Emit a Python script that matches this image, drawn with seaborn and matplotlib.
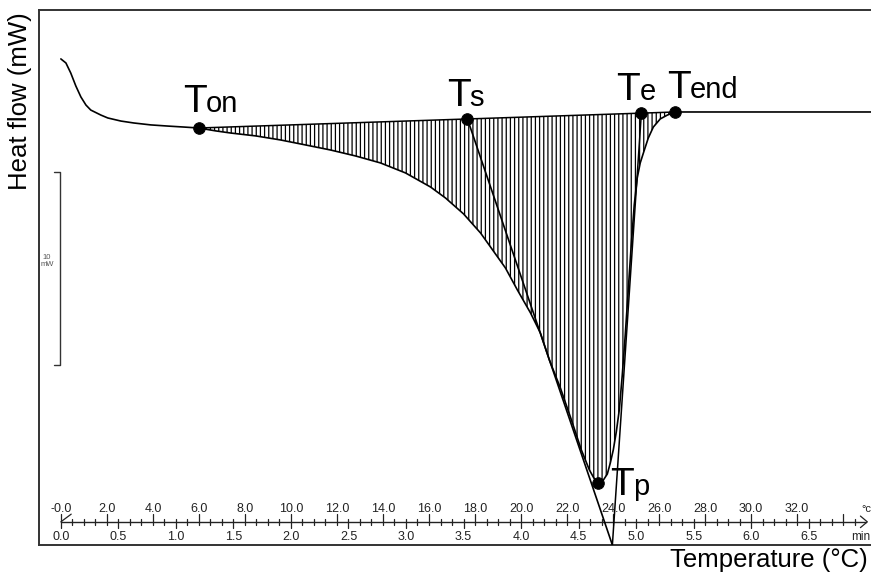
import numpy as np
import pandas as pd
import matplotlib
matplotlib.use("Agg")
import matplotlib.pyplot as plt
import seaborn as sns

# DSC melting trace: temperature (°C) against heat flow (mW, relative to the
# post-transition baseline; endotherm points down)
temperature = [0.00, 0.22, 0.43, 0.65, 0.87, 1.09, 1.30, 1.74, 2.04, 2.61,
               3.17, 3.91, 4.65, 5.34, 5.99, 6.73, 7.38, 8.47, 9.55, 10.64,
               11.72, 12.81, 13.89, 14.98, 16.07, 16.72, 17.50, 18.24, 18.67,
               19.32, 19.84, 20.41, 20.84, 21.23, 21.71, 22.19, 22.62, 22.97,
               23.19, 23.36, 23.58, 23.75, 23.88, 24.01, 24.14, 24.27, 24.40,
               24.53, 24.66, 24.79, 24.92, 25.05, 25.18, 25.36, 25.53, 25.75,
               26.05, 26.36, 26.71, 28.66, 35.50]
heat_flow = [2.75, 2.54, 2.02, 1.35, 0.78, 0.36, 0.10, -0.16, -0.31, -0.47,
             -0.57, -0.67, -0.73, -0.78, -0.83, -0.98, -1.09, -1.24, -1.45,
             -1.71, -1.97, -2.28, -2.64, -3.16, -3.89, -4.46, -5.28, -6.27,
             -6.99, -8.08, -9.22, -10.41, -11.45, -12.85, -14.30, -15.96,
             -17.51, -18.55, -19.02, -19.22, -19.07, -18.76, -18.19, -17.51,
             -16.58, -15.44, -13.63, -11.55, -9.22, -6.89, -4.82, -3.42,
             -2.64, -1.97, -1.35, -0.78, -0.36, -0.16, 0.00, 0.00, 0.00]

# characteristic temperatures of the transition
point_names = ["on", "s", "e", "end", "p"]
point_temp = [5.99, 17.67, 25.23, 26.71, 23.36]
point_hf = [-0.83, -0.36, -0.06, 0.00, -19.22]

# inflectional tangents on the leading and trailing edges of the peak
tangent_lead_temp = [17.67, 23.97]
tangent_lead_hf = [-0.36, -22.44]
tangent_trail_temp = [25.23, 23.97]
tangent_trail_hf = [-0.06, -22.44]

# instrument ruler: temperature (°C) above, time (min) below
temp_tick_values = [0, 2, 4, 6, 8, 10, 12, 14, 16, 18, 20, 22, 24, 26, 28, 30, 32]
temp_tick_labels = ["-0.0", "2.0", "4.0", "6.0", "8.0", "10.0", "12.0", "14.0",
                    "16.0", "18.0", "20.0", "22.0", "24.0", "26.0", "28.0",
                    "30.0", "32.0"]
time_tick_values = [0.0, 0.5, 1.0, 1.5, 2.0, 2.5, 3.0, 3.5, 4.0, 4.5, 5.0,
                    5.5, 6.0, 6.5]
time_tick_labels = ["0.0", "0.5", "1.0", "1.5", "2.0", "2.5", "3.0", "3.5",
                    "4.0", "4.5", "5.0", "5.5", "6.0", "6.5"]
heating_rate = 5.0      # °C per minute
scale_bar_mw = 10.0

sns.set_theme(style="white")
plt.rcParams["font.family"] = ["Liberation Sans", "DejaVu Sans"]
plt.rcParams["hatch.linewidth"] = 0.9

W, H = 871, 575
fig = plt.figure(figsize=(W / 100, H / 100), dpi=100)
ax = fig.add_axes([39 / W, 30 / H, (W - 39) / W, 535 / H])
ax.set_xlim(-0.95, 35.21)
ax.set_ylim(-22.44, 5.285)
ax.set_xticks([])
ax.set_yticks([])
for side in ["left", "top", "bottom"]:
    ax.spines[side].set_color("#333333")
    ax.spines[side].set_linewidth(1.4)
ax.spines["right"].set_visible(False)

df = pd.DataFrame({"temperature": temperature, "heat_flow": heat_flow})
t = np.array(temperature)
hf = np.array(heat_flow)

# hatched area between the curve and the Ton-Tend baseline
t_on, t_end = point_temp[0], point_temp[3]
hf_on, hf_end = point_hf[0], point_hf[3]
sel = (t >= t_on) & (t <= t_end)
base = np.interp(t[sel], [t_on, t_end], [hf_on, hf_end])
ax.fill_between(t[sel], base, hf[sel], facecolor="none", edgecolor="black",
                hatch="||||", linewidth=0, zorder=1)
ax.plot([t_on, t_end], [hf_on, hf_end], color="black", lw=1.1, zorder=2)

sns.lineplot(data=df, x="temperature", y="heat_flow", sort=False,
             estimator=None, color="black", lw=1.2, ax=ax, zorder=3)
ax.plot(tangent_lead_temp, tangent_lead_hf, color="black", lw=1.2, zorder=3)
ax.plot(tangent_trail_temp, tangent_trail_hf, color="black", lw=1.1, zorder=3)

sns.scatterplot(x=point_temp, y=point_hf, s=70, color="black",
                edgecolor="black", ax=ax, zorder=5, legend=False)

# T labels with their suffix (offsets in points from the marker)
label_offsets = {
    "on": ((-11.5, 11.5), (5.0, 11.5)),
    "s": ((-14.5, 9.5), (1.0, 9.5)),
    "e": ((-18.5, 9.5), (-1.5, 9.5)),
    "end": ((-6.0, 10.0), (10.5, 10.0)),
    "p": ((8.5, -8.5), (25.0, -8.5)),
}
for name, pt, ph in zip(point_names, point_temp, point_hf):
    (tx, ty), (sx, sy) = label_offsets[name]
    ax.annotate("T", xy=(pt, ph), xytext=(tx, ty), textcoords="offset points",
                ha="left", va="baseline", fontsize=28, color="black")
    ax.annotate(name, xy=(pt, ph), xytext=(sx, sy), textcoords="offset points",
                ha="left", va="baseline", fontsize=21, color="black")

# 10 mW scale bar
bar_x, bar_top = -0.04, -3.11
ax.plot([bar_x - 0.26, bar_x, bar_x, bar_x - 0.26],
        [bar_top, bar_top, bar_top - scale_bar_mw, bar_top - scale_bar_mw],
        color="#333333", lw=1.0)
ax.text(-0.6, bar_top - 4.6, "10\nmW", fontsize=5.5, color="#555555",
        ha="center", va="center", linespacing=1.1)

# ruler along the bottom of the frame
ruler_y = -21.24
ax.plot([0, 35.0], [ruler_y, ruler_y], color="#222222", lw=1.0)
for k in range(1, 70):
    tk = 0.5 * k
    up, down = 0.16, 0.16
    if k % 4 == 0:
        up = 0.42
    if k % 5 == 0:
        down = 0.3
    ax.plot([tk, tk], [ruler_y - down, ruler_y + up], color="#222222", lw=0.9)
ax.plot([0, 0], [ruler_y - 0.3, ruler_y + 0.4], color="#222222", lw=0.9)
ax.plot([0, 0.45], [ruler_y, ruler_y + 0.4], color="#222222", lw=0.9)
ax.plot([34.75, 35.05, 34.75], [ruler_y + 0.3, ruler_y, ruler_y - 0.3],
        color="#222222", lw=0.9)
for v, lab in zip(temp_tick_values, temp_tick_labels):
    ax.text(v, -20.55, lab, fontsize=9, color="#222222", ha="center", va="center")
for v, lab in zip(time_tick_values, time_tick_labels):
    ax.text(v * heating_rate, -22.02, lab, fontsize=9, color="#222222",
            ha="center", va="center")
ax.text(35.0, -20.55, "°c", fontsize=8, color="#222222", ha="center", va="center")
ax.text(34.35, -22.02, "min", fontsize=8.5, color="#222222", ha="left", va="center")

fig.text(20 / W, 1 - 101 / H, "Heat flow (mW)", rotation=90, fontsize=18.5,
         ha="center", va="center", color="black")
fig.text(868 / W, 1 - 560 / H, "Temperature (°C)", fontsize=18.5,
         ha="right", va="center", color="black")

fig.savefig("out.png", dpi=100)
